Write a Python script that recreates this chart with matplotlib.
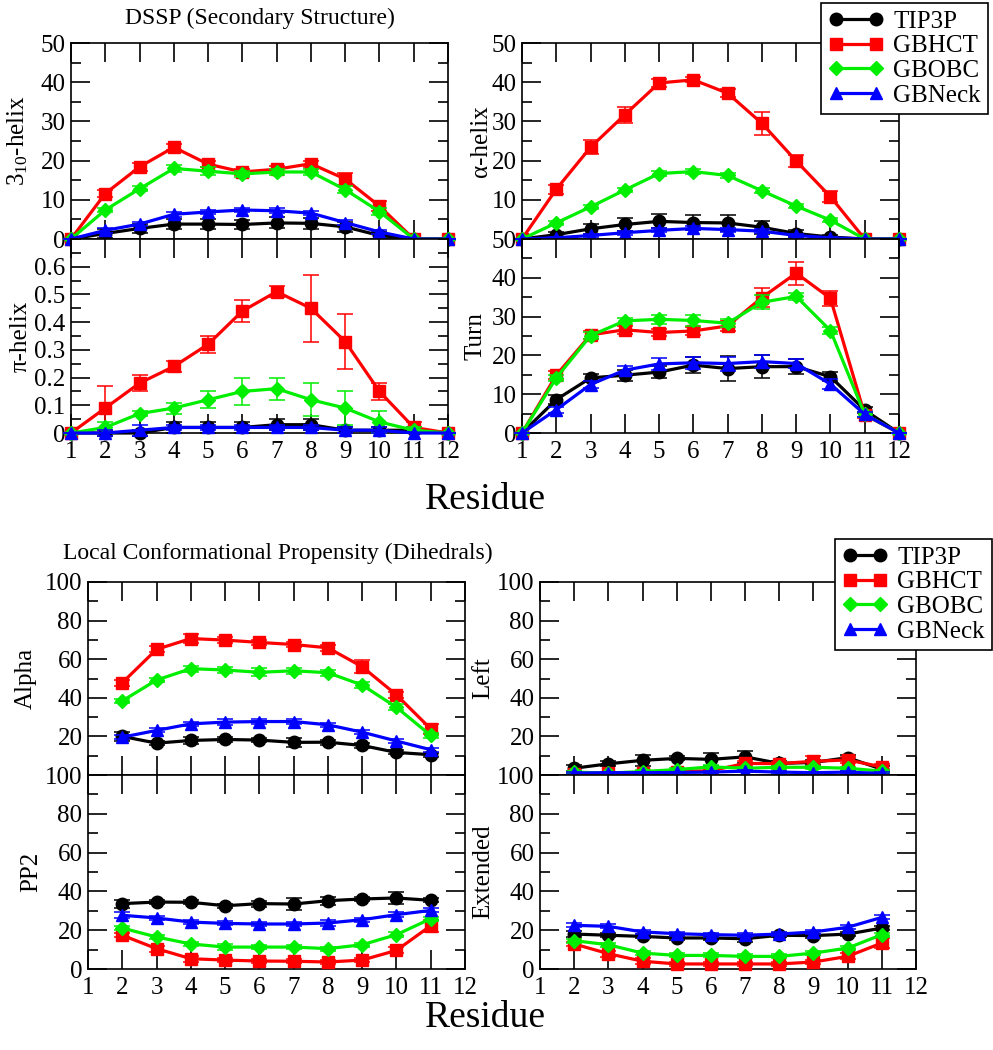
import numpy as np
import matplotlib
matplotlib.use("Agg")
import matplotlib.pyplot as plt
from matplotlib.lines import Line2D
from matplotlib.ticker import MultipleLocator

plt.rcParams["font.family"] = ["Liberation Serif", "DejaVu Serif"]
plt.rcParams["mathtext.fontset"] = "custom"
plt.rcParams["mathtext.rm"] = "Liberation Serif"
plt.rcParams["mathtext.it"] = "Liberation Serif:italic"

# ---- data -------------------------------------------------------------
models = ["TIP3P", "GBHCT", "GBOBC", "GBNeck"]
colors = ["#000000", "#ff0000", "#00ee00", "#0000ff"]
markers = ["o", "s", "D", "^"]
msizes = [9, 8, 7, 9]

res_dssp = list(range(1, 13))
res_dih = list(range(2, 12))

# 3-10 helix
h310 = [
    [0, 1.4, 2.7, 3.8, 3.8, 3.7, 4.1, 4.0, 3.1, 0.9, 0, 0],
    [0, 11.6, 18.4, 23.4, 19.1, 17.1, 17.8, 19.2, 15.3, 8.4, 0, 0],
    [0, 7.4, 12.8, 18.0, 17.3, 16.6, 17.1, 17.1, 12.6, 7.0, 0, 0],
    [0, 2.2, 3.8, 6.3, 6.9, 7.4, 7.2, 6.6, 4.2, 1.8, 0, 0],
]
h310_err = [
    [0, 1.2, 1.2, 1.2, 1.2, 1.2, 1.4, 1.4, 1.2, 1.0, 0, 0],
    [0, 1.0, 1.0, 0.8, 0.8, 0.8, 0.8, 0.8, 1.5, 1.2, 0, 0],
    [0, 0.6, 0.6, 0.8, 1.0, 0.8, 0.8, 0.8, 0.8, 0.8, 0, 0],
    [0, 0.6, 0.6, 0.6, 0.6, 0.6, 0.6, 0.6, 0.6, 0.6, 0, 0],
]

# alpha helix
halpha = [
    [0, 1.1, 2.6, 3.7, 4.5, 4.2, 4.1, 3.0, 1.4, 0.5, 0, 0],
    [0, 12.7, 23.4, 31.7, 39.8, 40.6, 37.2, 29.5, 19.9, 10.8, 0, 0],
    [0, 4.1, 8.2, 12.5, 16.7, 17.2, 16.2, 12.3, 8.4, 4.8, 0, 0],
    [0, 0.3, 0.9, 1.6, 2.2, 2.7, 2.4, 2.0, 0.9, 0.3, 0, 0],
]
halpha_err = [
    [0, 0.8, 1.2, 1.6, 1.8, 2.0, 2.0, 1.6, 1.0, 0.6, 0, 0],
    [0, 1.2, 1.8, 2.0, 0.9, 0.6, 1.1, 3.0, 1.6, 1.4, 0, 0],
    [0, 0.5, 0.5, 0.6, 0.6, 0.6, 0.6, 0.6, 0.5, 0.5, 0, 0],
    [0, 0.3, 0.4, 0.5, 0.5, 0.5, 0.5, 0.5, 0.4, 0.3, 0, 0],
]

# pi helix
hpi = [
    [0, 0.0, 0.0, 0.02, 0.02, 0.02, 0.03, 0.03, 0.01, 0.01, 0.01, 0],
    [0, 0.09, 0.18, 0.24, 0.32, 0.44, 0.51, 0.45, 0.33, 0.15, 0.02, 0],
    [0, 0.02, 0.07, 0.09, 0.12, 0.15, 0.16, 0.12, 0.09, 0.04, 0.01, 0],
    [0, 0.0, 0.01, 0.02, 0.02, 0.02, 0.02, 0.02, 0.01, 0.01, 0.0, 0],
]
hpi_err = [
    [0, 0.01, 0.01, 0.02, 0.02, 0.02, 0.02, 0.02, 0.01, 0.01, 0.01, 0],
    [0, 0.08, 0.03, 0.02, 0.03, 0.04, 0.02, 0.12, 0.10, 0.03, 0.02, 0],
    [0, 0.02, 0.01, 0.02, 0.03, 0.05, 0.04, 0.06, 0.06, 0.04, 0.01, 0],
    [0, 0.01, 0.02, 0.01, 0.01, 0.01, 0.01, 0.01, 0.01, 0.01, 0.0, 0],
]

# turn
turn = [
    [0, 8.6, 14.2, 14.9, 15.7, 17.5, 16.6, 17.1, 17.1, 14.5, 5.9, 0],
    [0, 14.9, 25.3, 26.6, 25.9, 26.3, 27.6, 34.9, 41.2, 34.7, 4.7, 0],
    [0, 14.2, 25.1, 28.9, 29.3, 29.0, 28.3, 33.7, 35.2, 26.4, 4.8, 0],
    [0, 6.0, 12.5, 16.2, 17.8, 18.1, 17.9, 18.4, 17.9, 12.6, 4.8, 0],
]
turn_err = [
    [0, 1.2, 1.0, 1.4, 1.5, 2.0, 3.3, 3.0, 2.0, 1.2, 0.8, 0],
    [0, 1.0, 1.0, 1.0, 0.8, 1.0, 1.2, 2.5, 3.0, 2.0, 0.8, 0],
    [0, 0.8, 1.0, 0.8, 1.2, 1.5, 1.0, 1.8, 1.0, 1.0, 0.6, 0],
    [0, 0.8, 1.0, 1.0, 1.5, 1.5, 1.8, 1.6, 1.2, 1.2, 0.6, 0],
]

# dihedral propensities (residues 2-11)
dalpha = [
    [20.0, 16.5, 17.9, 18.4, 18.1, 16.9, 17.0, 15.3, 11.7, 10.5],
    [47.8, 65.1, 70.7, 69.9, 68.7, 67.6, 65.9, 56.1, 41.5, 23.9],
    [38.4, 49.2, 55.1, 54.4, 53.2, 54.0, 53.0, 46.6, 35.1, 20.5],
    [19.6, 23.1, 26.5, 27.4, 27.7, 27.7, 26.0, 22.2, 17.6, 13.1],
]
dalpha_err = [
    [2.5, 1.0, 2.0, 1.2, 1.2, 2.2, 1.2, 1.2, 1.0, 1.0],
    [1.5, 1.5, 2.5, 1.5, 1.5, 1.5, 1.5, 3.5, 1.5, 2.5],
    [1.2, 1.2, 1.5, 1.8, 2.0, 1.5, 1.5, 1.5, 1.5, 1.2],
    [1.0, 1.0, 1.0, 1.5, 1.5, 1.5, 1.2, 1.0, 1.0, 1.0],
]

dleft = [
    [3.5, 5.8, 7.6, 8.6, 8.1, 9.4, 6.0, 6.5, 9.0, 3.0],
    [0.5, 1.0, 1.2, 1.8, 2.2, 6.0, 5.9, 7.1, 7.8, 4.2],
    [1.5, 1.0, 1.8, 2.8, 4.2, 3.5, 4.0, 4.0, 3.5, 2.0],
    [1.0, 1.2, 1.2, 1.3, 1.5, 2.0, 1.5, 1.2, 1.5, 0.8],
]
dleft_err = [
    [1.5, 1.2, 3.0, 1.0, 3.5, 3.0, 1.0, 1.5, 1.2, 1.5],
    [0.8, 0.8, 0.8, 0.8, 0.8, 1.5, 1.0, 3.0, 1.5, 1.5],
    [0.8, 0.8, 0.8, 0.8, 0.8, 0.8, 0.8, 0.8, 0.8, 0.8],
    [0.5, 0.5, 0.5, 0.5, 0.5, 0.5, 0.5, 0.5, 0.5, 0.5],
]

dpp2 = [
    [33.7, 34.5, 34.4, 32.6, 33.7, 33.5, 35.2, 36.1, 36.6, 35.4],
    [17.4, 10.5, 5.3, 4.6, 4.1, 4.0, 3.6, 4.6, 9.6, 22.3],
    [21.1, 16.5, 12.9, 11.3, 11.3, 11.3, 10.5, 12.5, 17.7, 25.9],
    [27.7, 26.3, 24.2, 23.5, 23.2, 23.2, 23.7, 25.4, 28.0, 30.2],
]
dpp2_err = [
    [2.0, 1.0, 1.0, 1.0, 1.5, 3.0, 2.0, 1.0, 3.0, 1.0],
    [1.0, 1.5, 1.5, 1.2, 1.0, 1.0, 1.0, 1.2, 1.5, 3.0],
    [1.0, 1.0, 1.0, 1.5, 1.2, 1.0, 1.0, 1.0, 1.2, 1.0],
    [1.5, 1.0, 1.0, 1.0, 1.0, 1.0, 1.5, 1.0, 1.2, 1.0],
]

dext = [
    [18.0, 17.4, 16.8, 16.0, 16.0, 15.6, 17.4, 17.2, 18.0, 21.1],
    [12.9, 7.9, 4.0, 2.6, 2.6, 2.6, 2.6, 3.6, 6.5, 13.4],
    [14.6, 12.5, 8.2, 7.0, 7.0, 6.5, 6.5, 8.2, 10.8, 17.7],
    [22.5, 22.0, 19.1, 18.2, 17.7, 17.4, 18.0, 19.1, 21.5, 26.6],
]
dext_err = [
    [1.5, 1.0, 1.0, 1.2, 1.0, 1.5, 1.0, 1.0, 1.0, 1.2],
    [1.0, 1.5, 1.5, 1.0, 1.0, 1.0, 1.0, 1.0, 1.5, 2.5],
    [1.0, 1.0, 1.0, 1.0, 1.0, 1.0, 1.0, 1.0, 1.0, 1.0],
    [1.0, 1.0, 1.0, 1.0, 1.0, 1.0, 1.0, 1.0, 1.0, 1.0],
]

# ---- figure -----------------------------------------------------------
W, H = 993, 1050
fig = plt.figure(figsize=(W / 100, H / 100), dpi=100)
FS = 18


def make_ax(left, top, right, bottom):
    # pixel box -> figure fraction
    return fig.add_axes([left / W, 1 - bottom / H, (right - left) / W, (bottom - top) / H])


def draw(ax, x, series, errs, ylim, major, minor, ylabel, xlabels, labelx,
         ytop=None, hide_zero=False):
    for i in range(4):
        ax.errorbar(x, series[i], yerr=errs[i], color=colors[i], marker=markers[i],
                    markersize=msizes[i], linewidth=2.3, elinewidth=1.1, capsize=6,
                    capthick=1.1, clip_on=False, zorder=3 + i)
    ax.set_xlim(1, 12)
    ax.set_ylim(*ylim)
    ax.xaxis.set_major_locator(MultipleLocator(1))
    top = ytop if ytop is not None else ylim[1]
    ticks = np.arange(ylim[0], top + major / 2, major)
    ax.set_yticks(ticks)
    labels = ["%g" % round(t, 2) for t in ticks]
    if hide_zero:
        # the panel below prints its top label at the same spot
        labels[0] = ""
    ax.set_yticklabels(labels)
    ax.yaxis.set_minor_locator(MultipleLocator(minor))
    ax.tick_params(which="both", direction="in", top=True, right=True, width=1.2,
                   labelsize=FS, pad=4)
    ax.tick_params(which="major", length=14)
    ax.tick_params(which="minor", length=7)
    ax.tick_params(axis="x", which="minor", length=0)
    ax.tick_params(axis="x", pad=6)
    if not xlabels:
        ax.tick_params(axis="x", labelbottom=False)
    for s in ax.spines.values():
        s.set_linewidth(1.2)
    ax.set_ylabel(ylabel, fontsize=FS)
    ax.yaxis.set_label_coords(labelx, 0.5)


# DSSP panels
ax1 = make_ax(71, 43, 448, 239)
draw(ax1, res_dssp, h310, h310_err, (0, 50), 10, 5, r"3$_{\mathrm{10}}$-helix", False, -0.108)
ax2 = make_ax(71, 239, 448, 433)
draw(ax2, res_dssp, hpi, hpi_err, (0, 0.7), 0.1, 0.05, "π-helix", True, -0.103, ytop=0.6)
ax3 = make_ax(522, 43, 899, 239)
draw(ax3, res_dssp, halpha, halpha_err, (0, 50), 10, 5, "α-helix", False, -0.080,
     hide_zero=True)
ax4 = make_ax(522, 239, 899, 433)
draw(ax4, res_dssp, turn, turn_err, (0, 50), 10, 5, "Turn", True, -0.093)

# dihedral panels
ax5 = make_ax(88, 582, 465, 775)
draw(ax5, res_dih, dalpha, dalpha_err, (0, 100), 20, 10, "Alpha", False, -0.135,
     hide_zero=True)
ax6 = make_ax(88, 775, 465, 969)
draw(ax6, res_dih, dpp2, dpp2_err, (0, 100), 20, 10, "PP2", True, -0.122)
ax7 = make_ax(540, 582, 916, 775)
draw(ax7, res_dih, dleft, dleft_err, (0, 100), 20, 10, "Left", False, -0.122,
     hide_zero=True)
ax8 = make_ax(540, 775, 916, 969)
draw(ax8, res_dih, dext, dext_err, (0, 100), 20, 10, "Extended", True, -0.122)

# titles and shared x labels
fig.text(260 / W, 1 - 18 / H, "DSSP (Secondary Structure)", ha="center", va="center", fontsize=17)
fig.text(278 / W, 1 - 553 / H, "Local Conformational Propensity (Dihedrals)", ha="center",
         va="center", fontsize=17)
fig.text(485 / W, 1 - 500 / H, "Residue", ha="center", va="center", fontsize=27)
fig.text(485 / W, 1 - 1018 / H, "Residue", ha="center", va="center", fontsize=27)

# legends (plain line + marker handles, no error bars)
handles = [Line2D([], [], color=colors[i], marker=markers[i], markersize=msizes[i],
                  linewidth=2.3) for i in range(4)]
for anchor_x, anchor_y, hl in [(988, 3, 2.2), (992, 539, 1.8)]:
    leg = fig.legend(handles, models, loc="upper right",
                     bbox_to_anchor=(anchor_x / W, 1 - anchor_y / H),
                     fontsize=FS, numpoints=2, handlelength=hl, handletextpad=0.4,
                     labelspacing=0.08, borderpad=0.3, borderaxespad=0, fancybox=False,
                     framealpha=1, edgecolor="black")
    leg.get_frame().set_linewidth(1.2)

fig.savefig("out.png", dpi=100)
